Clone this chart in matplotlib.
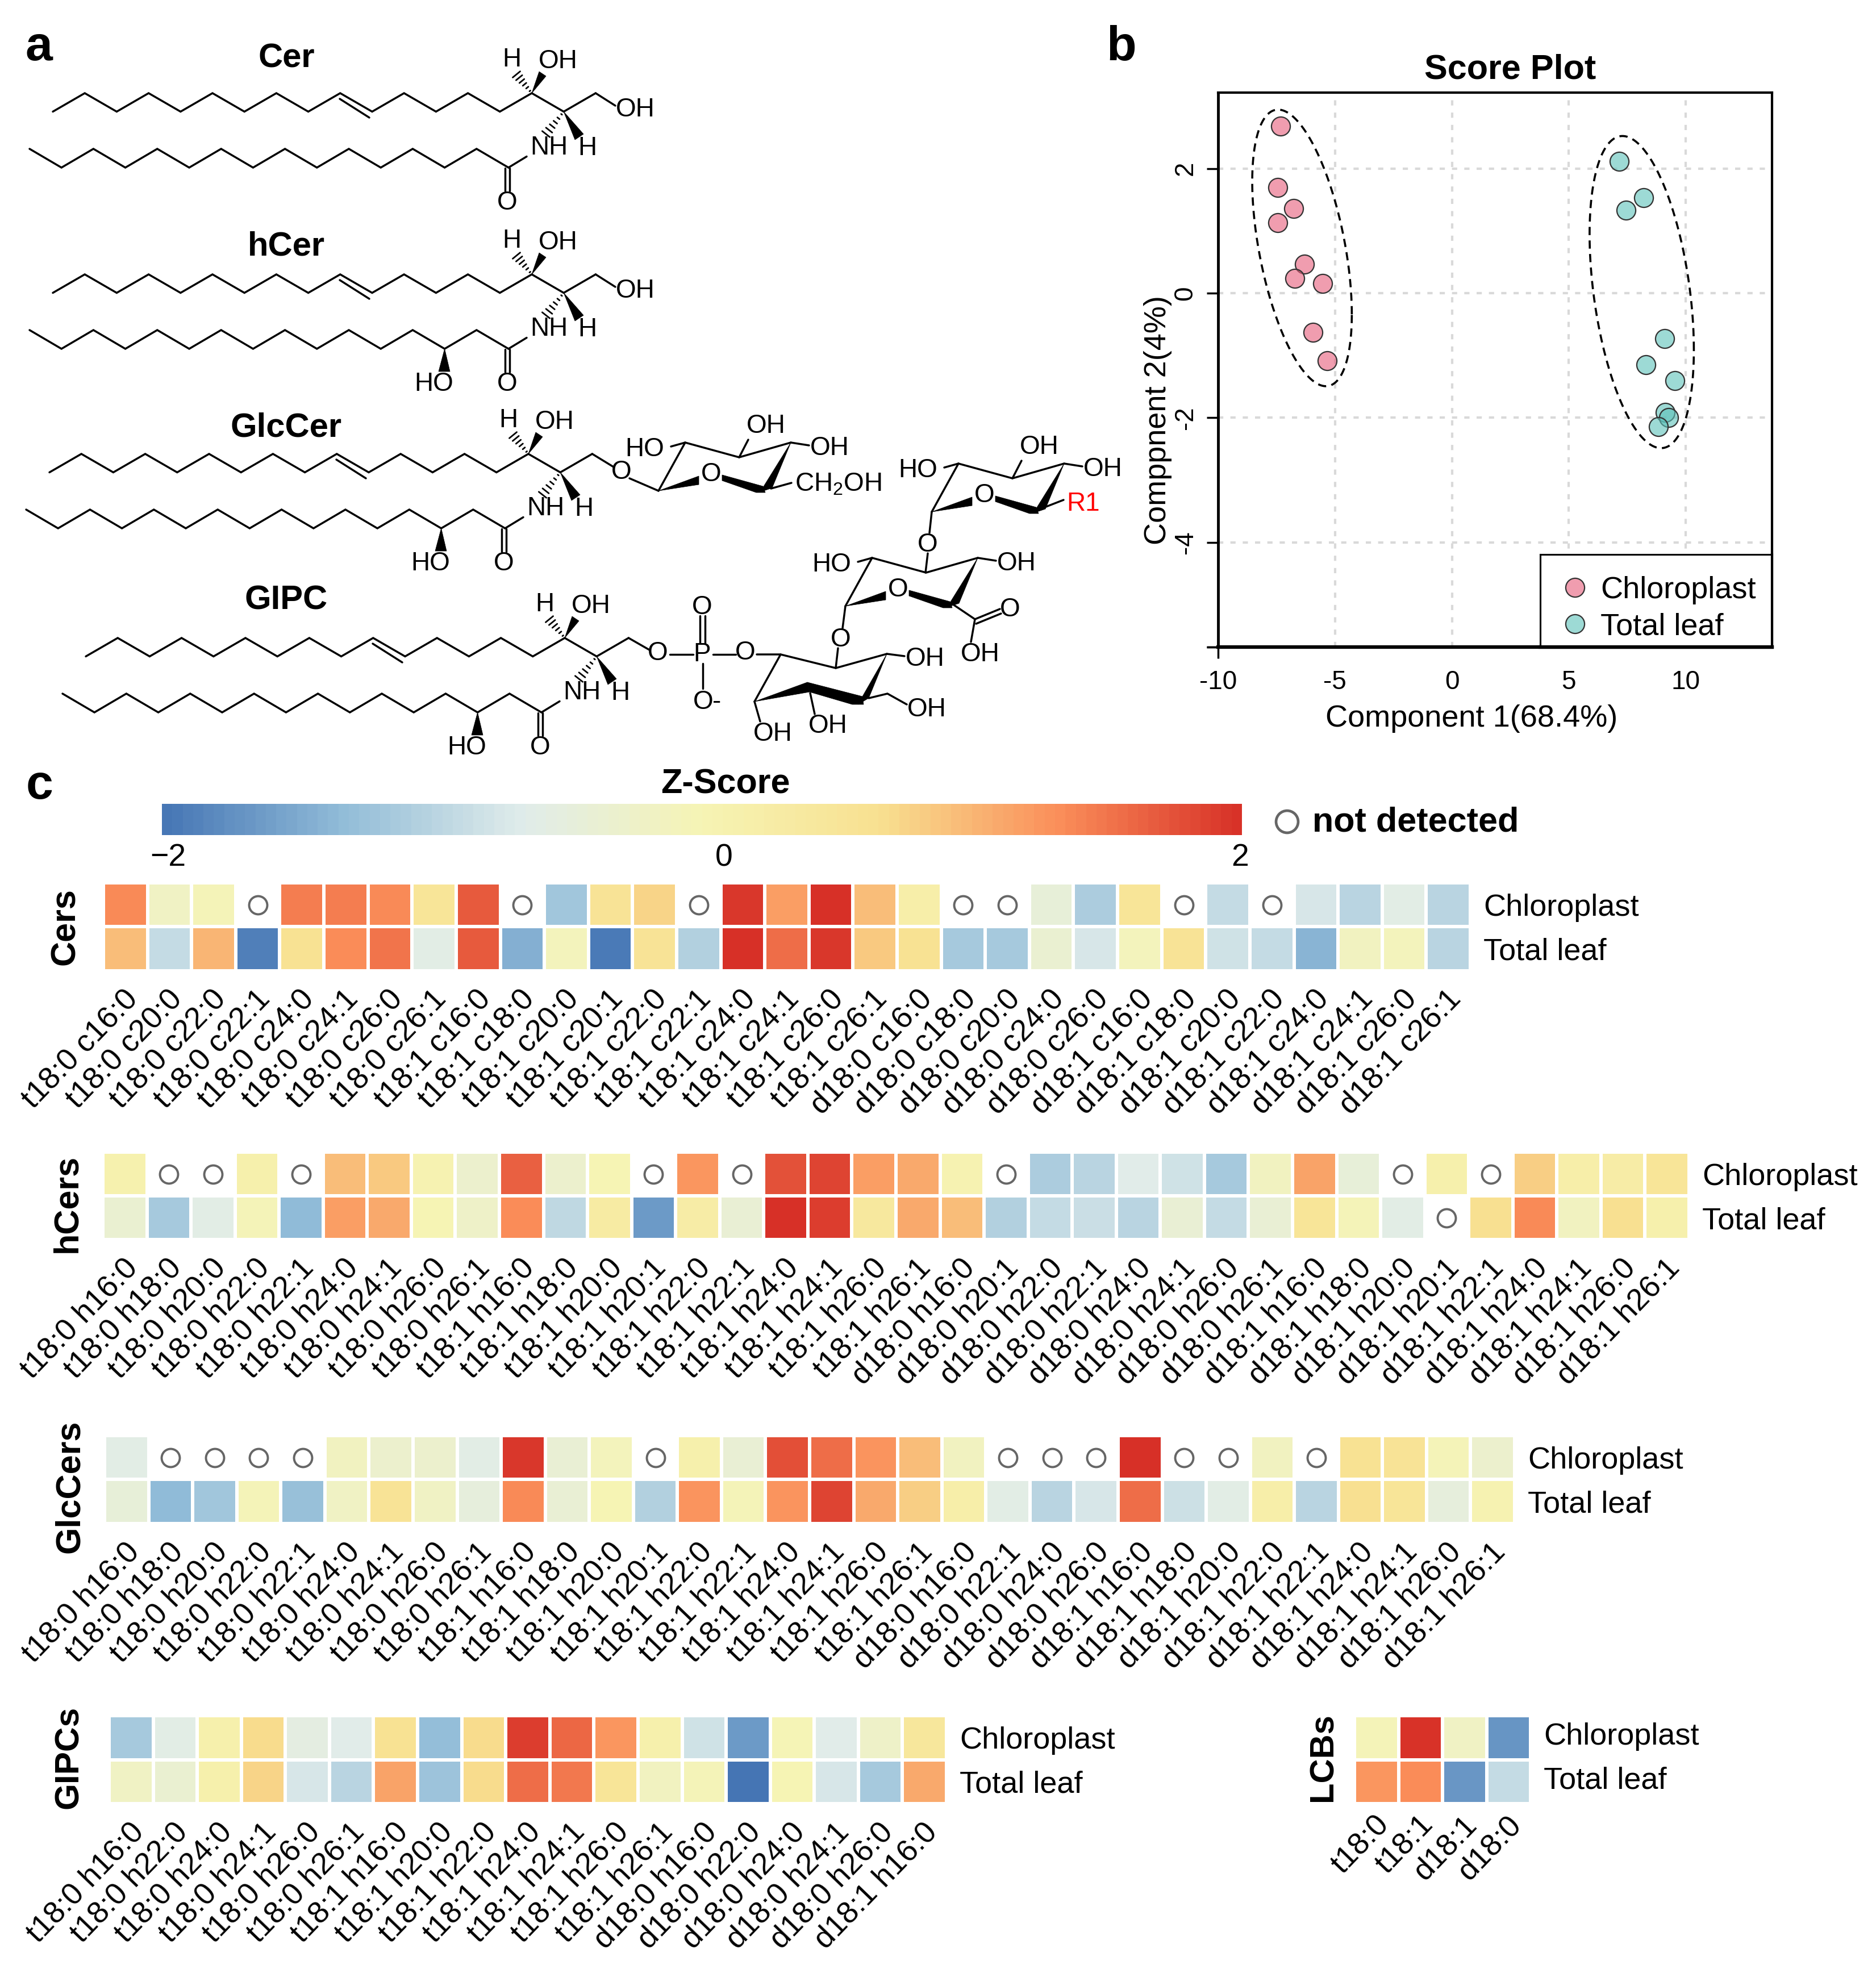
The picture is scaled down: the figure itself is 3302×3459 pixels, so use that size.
import numpy as np
import matplotlib
matplotlib.use("Agg")
import matplotlib.pyplot as plt
from matplotlib.colors import LinearSegmentedColormap
from matplotlib.patches import Polygon
from matplotlib.transforms import ScaledTranslation

plt.rcParams['font.family'] = ['Liberation Sans', 'DejaVu Sans']
plt.rcParams['mathtext.fontset'] = 'custom'
plt.rcParams['mathtext.rm'] = 'Liberation Sans'
plt.rcParams['mathtext.default'] = 'rm'

nd = np.nan

# ---------- data: score plot ----------
chloro_x = [-7.33, -7.44, -6.76, -7.44, -6.30, -6.72, -5.54, -5.95, -5.33]
chloro_y = [2.68, 1.70, 1.36, 1.13, 0.47, 0.24, 0.16, -0.63, -1.08]
leaf_x = [7.15, 8.20, 7.46, 9.11, 8.29, 9.53, 9.13, 9.28, 8.84]
leaf_y = [2.12, 1.53, 1.33, -0.73, -1.15, -1.40, -1.91, -2.00, -2.14]
# ellipse: centre x, centre y, half-width, half-height, correlation
chloro_ellipse = (-6.41, 0.727, 2.13, 2.22, -0.48)
leaf_ellipse = (8.12, 0.018, 2.23, 2.505, -0.37)
x_ticks = [-10, -5, 0, 5, 10]
y_ticks = [2, 0, -2, -4]

# ---------- data: heatmaps ----------
rows = ['Chloroplast', 'Total leaf']

cers_labels = ['t18:0 c16:0', 't18:0 c20:0', 't18:0 c22:0', 't18:0 c22:1', 't18:0 c24:0', 't18:0 c24:1',
               't18:0 c26:0', 't18:0 c26:1', 't18:1 c16:0', 't18:1 c18:0', 't18:1 c20:0', 't18:1 c20:1',
               't18:1 c22:0', 't18:1 c22:1', 't18:1 c24:0', 't18:1 c24:1', 't18:1 c26:0', 't18:1 c26:1',
               'd18:0 c16:0', 'd18:0 c18:0', 'd18:0 c20:0', 'd18:0 c24:0', 'd18:0 c26:0', 'd18:1 c16:0',
               'd18:1 c18:0', 'd18:1 c20:0', 'd18:1 c22:0', 'd18:1 c24:0', 'd18:1 c24:1', 'd18:1 c26:0',
               'd18:1 c26:1']
cers_chloro = [1.35, -.2, -.05, nd, 1.45, 1.45, 1.35, .5, 1.7, nd, -1.2, .55, .75, nd, 1.95, 1.2, 2.0, .95, .2,
               nd, nd, -.45, -1.1, .5, nd, -.9, nd, -.75, -1.0, -.6, -1.0]
cers_leaf = [.95, -.9, 1.0, -1.9, .6, 1.33, 1.5, -.6, 1.7, -1.45, -.1, -1.95, .55, -1.05, 2.0, 1.55, 1.95, .85, .6,
             -1.15, -1.15, -.35, -.75, -.1, .55, -.8, -.9, -1.4, -.15, -.1, -1.0]

hcers_labels = ['t18:0 h16:0', 't18:0 h18:0', 't18:0 h20:0', 't18:0 h22:0', 't18:0 h22:1', 't18:0 h24:0',
                't18:0 h24:1', 't18:0 h26:0', 't18:0 h26:1', 't18:1 h16:0', 't18:1 h18:0', 't18:1 h20:0',
                't18:1 h20:1', 't18:1 h22:0', 't18:1 h22:1', 't18:1 h24:0', 't18:1 h24:1', 't18:1 h26:0',
                't18:1 h26:1', 'd18:0 h16:0', 'd18:0 h20:1', 'd18:0 h22:0', 'd18:0 h22:1', 'd18:0 h24:0',
                'd18:0 h24:1', 'd18:0 h26:0', 'd18:0 h26:1', 'd18:1 h16:0', 'd18:1 h18:0', 'd18:1 h20:0',
                'd18:1 h20:1', 'd18:1 h22:1', 'd18:1 h24:0', 'd18:1 h24:1', 'd18:1 h26:0', 'd18:1 h26:1']
hcers_chloro = [.1, nd, nd, .15, nd, .95, .85, .05, -.3, 1.65, -.3, 0, nd, 1.25, nd, 1.75, 1.85, 1.2, 1.1, .05,
                nd, -1.1, -1.0, -.65, -.8, -1.15, -.15, 1.15, -.45, nd, .15, nd, .8, .2, .25, .5]
hcers_leaf = [-.35, -1.15, -.6, -.05, -1.33, 1.2, 1.1, 0, -.25, 1.33, -.95, .3, -1.65, .25, -.4, 2.0, 1.9, .4, 1.1,
              .95, -1.05, -.9, -.85, -1.0, -.4, -.9, -.4, .5, -.05, -.6, nd, .65, 1.35, -.15, .65, .15]

glc_labels = ['t18:0 h16:0', 't18:0 h18:0', 't18:0 h20:0', 't18:0 h22:0', 't18:0 h22:1', 't18:0 h24:0',
              't18:0 h24:1', 't18:0 h26:0', 't18:0 h26:1', 't18:1 h16:0', 't18:1 h18:0', 't18:1 h20:0',
              't18:1 h20:1', 't18:1 h22:0', 't18:1 h22:1', 't18:1 h24:0', 't18:1 h24:1', 't18:1 h26:0',
              't18:1 h26:1', 'd18:0 h16:0', 'd18:0 h22:1', 'd18:0 h24:0', 'd18:0 h26:0', 'd18:1 h16:0',
              'd18:1 h18:0', 'd18:1 h20:0', 'd18:1 h22:0', 'd18:1 h22:1', 'd18:1 h24:0', 'd18:1 h24:1',
              'd18:1 h26:0', 'd18:1 h26:1']
glc_chloro = [-.6, nd, nd, nd, nd, -.15, -.3, -.3, -.6, 1.95, -.4, -.1, nd, .15, -.4, 1.78, 1.55, 1.28, .95, -.15,
              nd, nd, nd, 2.0, nd, nd, -.15, nd, .6, .55, -.05, -.3]
glc_leaf = [-.45, -1.33, -1.2, -.05, -1.27, -.2, .55, -.2, -.5, 1.35, -.4, 0, -1.05, 1.28, -.05, 1.28, 1.85, 1.1,
            .8, .2, -.6, -1.0, -.75, 1.55, -.83, -.6, .2, -1.0, .65, .5, -.5, .05]

gipc_labels = ['t18:0 h16:0', 't18:0 h22:0', 't18:0 h24:0', 't18:0 h24:1', 't18:0 h26:0', 't18:0 h26:1',
               't18:1 h16:0', 't18:1 h20:0', 't18:1 h22:0', 't18:1 h24:0', 't18:1 h24:1', 't18:1 h26:0',
               't18:1 h26:1', 'd18:0 h16:0', 'd18:0 h22:0', 'd18:0 h24:0', 'd18:0 h24:1', 'd18:0 h26:0',
               'd18:1 h16:0']
gipc_chloro = [-1.15, -.6, .15, .7, -.55, -.65, .6, -1.3, .7, 1.9, 1.6, 1.25, .15, -.8, -1.65, -.02, -.65, -.25, .45]
gipc_leaf = [-.2, -.35, .15, .75, -.75, -1.0, 1.15, -1.22, .7, 1.55, 1.47, .5, -.15, -.05, -2.0, 0, -.75, -1.15, 1.1]

lcb_labels = ['t18:0', 't18:1', 'd18:1', 'd18:0']
lcb_chloro = [-.05, 1.97, -.2, -1.7]
lcb_leaf = [1.25, 1.33, -1.68, -.9]

colorbar_ticks = ['\u22122', '0', '2']

# ---------- figure ----------
W, H = 3302, 3459
fig = plt.figure(figsize=(W / 100, H / 100), dpi=100, facecolor='white')
PX = 0.72  # points per pixel


def ax_px(l, t, r, b, **kw):
    return fig.add_axes([l / W, 1 - b / H, (r - l) / W, (b - t) / H], **kw)


ov = fig.add_axes([0, 0, 1, 1], zorder=0)
ov.set_xlim(0, W)
ov.set_ylim(H, 0)
ov.axis('off')
LW = 2.5
ATOM = 33


def line(*pts, lw=LW, c='black'):
    xs, ys = zip(*pts)
    ov.plot(xs, ys, color=c, lw=lw, solid_capstyle='round', solid_joinstyle='miter')


def atom(x, y, s, size=ATOM, c='black', **kw):
    ov.text(x, y + 3, s, ha='center', va='center', fontsize=size, color=c, **kw)


def wedge(*pts):
    ov.add_patch(Polygon(pts, closed=True, fc='black', ec='black', lw=0.5))


def hashed(tip, end, n=6, w=17):
    tip, end = np.array(tip, float), np.array(end, float)
    d = end - tip
    perp = np.array([-d[1], d[0]]) / np.hypot(*d)
    for f in np.linspace(0.12, 1, n):
        c = tip + d * f
        h = perp * w * f / 2
        line(c - h, c + h, lw=2.0)


def lipid(dx, dy, title, title_y, hydroxy, oh_head):
    sx = [93 + 56.2 * i + dx for i in range(18)]
    sy = [(164 if i % 2 else 196.5) + dy for i in range(18)]
    line(*zip(sx, sy))
    # trans double bond
    line((598 + dx, 174 + dy), (650 + dx, 207 + dy))
    fx = [52 + 56.2 * j + dx for j in range(16)]
    fy = [(295 if j % 2 else 262) + dy for j in range(16)]
    line(*zip(fx, fy))
    line((fx[-1], fy[-1]), (927 + dx, 275.5 + dy))
    line((889 + dx, 296 + dy), (889 + dx, 336 + dy))
    line((897 + dx, 296 + dy), (897 + dx, 336 + dy))
    atom(893 + dx, 354 + dy, 'O')
    wedge((sx[15], sy[15]), (949 + dx, 126 + dy), (961 + dx, 134 + dy))
    hashed((sx[15], sy[15]), (909 + dx, 131 + dy))
    wedge((sx[16], sy[16]), (1012 + dx, 246 + dy), (1027 + dx, 236 + dy))
    hashed((sx[16], sy[16]), (961 + dx, 236 + dy))
    atom(901 + dx, 102 + dy, 'H')
    atom(982 + dx, 105 + dy, 'OH')
    atom(966 + dx, 257 + dy, 'NH')
    atom(1034 + dx, 258 + dy, 'H')
    if oh_head:
        line((sx[17], sy[17]), (1083 + dx, 186 + dy))
        atom(1118 + dx, 190 + dy, 'OH')
    if hydroxy:
        wedge((fx[13], fy[13]), (772 + dx, 335 + dy), (792 + dx, 335 + dy))
        atom(764 + dx, 354 + dy, 'HO')
    ov.text(504, title_y, title, ha='center', va='center', fontsize=43, fontweight='bold')
    return sx[17], sy[17]


def ring(x, y, top_oh=True, right_oh=True, left_ho=True):
    P = lambda a, b: (x + a, y + b)
    line(P(0, 0), P(47, -85), P(142, -59), P(233, -85))
    wedge(P(0, 0), P(71, -26), P(71, -11))
    wedge(P(112, -28), P(112, -18), P(172, 3), P(188, 3), P(184, -8))
    wedge(P(233, -85), P(179, 2), P(200, -5))
    atom(x + 93, y - 32, 'O')
    if left_ho:
        line(P(47, -85), P(22, -78))
        atom(x - 24, y - 76, 'HO')
    if top_oh:
        line(P(142, -59), P(158, -90))
        atom(x + 189, y - 117, 'OH')
    if right_oh:
        line(P(233, -85), P(265, -80))
        atom(x + 301, y - 78, 'OH')


lipid(0, 0, 'Cer', 103, False, True)
lipid(0, 319, 'hCer', 434, True, True)
gx, gy = lipid(-6, 635, 'GlcCer', 753, True, False)
line((gx, gy), (1080, 822))
atom(1094, 828, 'O')
line((1108, 842), (1159, 864))
ring(1159, 864)
line((1357, 860), (1393, 850))
atom(1475, 849, 'CH$_2$OH')

px_, py_ = lipid(58, 959, 'GIPC', 1057, True, False)
line((px_, py_), (1143, 1144))
atom(1158, 1147, 'O')
line((1179, 1152), (1220, 1152))
atom(1236, 1149, 'P')
line((1255, 1152), (1295, 1152))
atom(1312, 1146, 'O')
line((1232, 1084), (1232, 1132))
line((1241, 1084), (1241, 1132))
atom(1236, 1066, 'O')
line((1237, 1168), (1237, 1212))
atom(1238, 1233, 'O')
atom(1262, 1233, '-')
line((1332, 1152), (1374, 1152), (1471, 1176), (1561, 1151))
line((1374, 1152), (1328, 1235))
wedge((1328, 1235), (1421, 1201), (1425, 1218))
wedge((1421, 1201), (1425, 1218), (1500, 1240), (1520, 1240), (1518, 1226))
wedge((1561, 1151), (1510, 1240), (1529, 1229))
line((1529, 1229), (1562, 1221), (1596, 1240))
atom(1631, 1246, 'OH')
line((1561, 1151), (1592, 1155))
atom(1628, 1157, 'OH')
line((1426, 1220), (1434, 1257))
atom(1457, 1275, 'OH')
line((1328, 1235), (1338, 1270))
atom(1360, 1289, 'OH')
line((1471, 1176), (1475, 1141))
atom(1480, 1123, 'O')
line((1483, 1106), (1488, 1067))
ring(1488, 1067, top_oh=False, right_oh=True)
line((1629, 1008), (1633, 974))
atom(1633, 956, 'O')
line((1636, 938), (1640, 901))
ring(1640, 901)
line((1818, 901), (1872, 880))
atom(1907, 884, 'R1', c='#ff0000')
# carboxyl
line((1679, 1065), (1716, 1090))
line((1716, 1090), (1760, 1072))
line((1718, 1098), (1762, 1080))
atom(1778, 1070, 'O')
line((1716, 1090), (1709, 1130))
atom(1725, 1149, 'OH')

for s, x, y in [('a', 68, 84), ('b', 1974, 84), ('c', 70, 1384)]:
    ov.text(x, y, s, ha='center', va='center', fontsize=62, fontweight='bold')

# ---------- panel b ----------
ax = ax_px(2144, 163, 3119, 1139, zorder=2)
ax.set_xlim(-10, (3119 - 2144) / 41.15 - 10)
ax.set_ylim(-5.68, 3.22)
ax.set_xticks(x_ticks)
ax.set_yticks(y_ticks)
ax.set_xticklabels([str(v) for v in x_ticks], fontsize=33)
ax.set_yticklabels([str(v) for v in y_ticks], fontsize=33, rotation=90, va='center')
ax.tick_params(axis='x', length=0, pad=29)
ax.tick_params(axis='y', length=20 * PX, width=2.5, pad=11)
ax.xaxis.get_major_ticks()[0].tick1line.set_markersize(20 * PX)
ax.xaxis.get_major_ticks()[0].tick1line.set_markeredgewidth(2.5)
grid_style = dict(color='#d9d9d9', lw=3, ls=(0, (2.2, 3)), zorder=0)
for v in x_ticks[1:]:
    ax.axvline(v, **grid_style)
for v in y_ticks:
    ax.axhline(v, **grid_style)
ax.plot([-10, -10], [-5.68, -5.68], clip_on=False, color='black', marker=0, ms=20 * PX, mew=2.5)
for side, lw in dict(left=3.5, top=3, right=3, bottom=4.5).items():
    ax.spines[side].set_linewidth(lw)
ax.set_xlabel('Component 1(68.4%)', fontsize=39, labelpad=12, x=0.458)
ax.set_ylabel('Comppnent 2(4%)', fontsize=39)
ax.yaxis.set_label_coords(-0.083, 0.409)
ax.set_title('Score Plot', fontsize=44, fontweight='bold', pad=17.5, x=0.527)
t = np.linspace(0, 2 * np.pi, 300)
for (cx, cy, rx, ry, rho) in (chloro_ellipse, leaf_ellipse):
    ax.plot(cx + rx * np.cos(t), cy + ry * (rho * np.cos(t) + np.sqrt(1 - rho ** 2) * np.sin(t)),
            color='black', lw=2.6, ls=(0, (4, 2.6)), zorder=2)
marker_style = dict(s=570, edgecolors='#333333', linewidths=1.6, zorder=3)
s1 = ax.scatter(chloro_x, chloro_y, facecolors=[(0.90, 0.36, 0.48, 0.6)], label='Chloroplast', **marker_style)
s2 = ax.scatter(leaf_x, leaf_y, facecolors=[(0.36, 0.76, 0.73, 0.6)], label='Total leaf', **marker_style)
lg = ax_px(2711, 976, 3119, 1139, zorder=5)
lg.set_xticks([])
lg.set_yticks([])
lg.patch.set_facecolor('white')
for side, lw in dict(left=2.2, top=2.2, right=3, bottom=4.5).items():
    lg.spines[side].set_linewidth(lw)
lg.legend(handles=[s1, s2], loc='center left', bbox_to_anchor=(0.083, 0.417), frameon=False, fontsize=39,
          borderaxespad=0, borderpad=0, labelspacing=0.27, handlelength=1.0, handletextpad=0.33,
          scatteryoffsets=[0.5])

# ---------- panel c ----------
cmap = LinearSegmentedColormap.from_list(
    'z', ['#4575b4', '#91bcd8', '#e0ecea', '#f6f4b4', '#f8e090', '#fa8d59', '#d73027'])


def heat(left, right, top, bottom, labels, chloro, leaf, label_dy=0, xpad=30):
    ax = ax_px(left - 3, top - 3, right + 3, bottom + 3, zorder=2)
    data = np.ma.masked_invalid(np.array([chloro, leaf], float))
    ax.pcolormesh(np.arange(len(labels) + 1), [0, 1, 2], data, cmap=cmap, vmin=-2, vmax=2,
                  edgecolors='white', linewidth=4.0)
    ax.set_xlim(0, len(labels))
    ax.set_ylim(2, 0)
    r, c = np.where(np.isnan(np.array([chloro, leaf], float)))
    ax.plot(c + .5, r + .5, 'o', mfc='none', mec='#666666', ms=23, mew=2.8, ls='none')
    ax.set_xticks(np.arange(len(labels)) + .5)
    ax.set_xticklabels(labels, rotation=46, ha='right', va='center', rotation_mode='anchor', fontsize=39)
    ax.yaxis.tick_right()
    ax.set_yticks([.5, 1.5])
    ax.set_yticklabels(rows, fontsize=39)
    ax.tick_params(length=0)
    ax.tick_params(axis='x', pad=xpad)
    ax.tick_params(axis='y', pad=16.5)
    xoff = ScaledTranslation(14 * PX / 72, 0, fig.dpi_scale_trans)
    for lab in ax.get_xticklabels():
        lab.set_transform(lab.get_transform() + xoff)
    if label_dy:
        off = ScaledTranslation(0, label_dy * PX / 72, fig.dpi_scale_trans)
        for lab in ax.get_yticklabels():
            lab.set_transform(lab.get_transform() + off)
    for sp in ax.spines.values():
        sp.set_visible(False)
    return ax


heat(185, 2585, 1557, 1706, cers_labels, cers_chloro, cers_leaf)
heat(184, 2970, 2031, 2179, hcers_labels, hcers_chloro, hcers_leaf)
heat(187, 2663, 2530, 2679, glc_labels, glc_chloro, glc_leaf)
heat(195, 1663, 3023, 3172, gipc_labels, gipc_chloro, gipc_leaf)
heat(2387, 2691, 3023, 3172, lcb_labels, lcb_chloro, lcb_leaf, label_dy=7, xpad=21)

for s, x, y, size in [('Cers', 116, 1631, 44), ('hCers', 119, 2118, 44), ('GlcCers', 124, 2617, 44),
                      ('GIPCs', 122, 3093, 43.5), ('LCBs', 2329, 3093, 43)]:
    ov.text(x, y, s, rotation=90, ha='center', va='center', fontsize=size, fontweight='bold')

# colour bar
cb = ax_px(285, 1415, 2186, 1470, zorder=2)
bands = np.linspace(-2, 2, 105)
cb.pcolormesh(bands, [0, 1], ((bands[:-1] + bands[1:]) / 2)[None, :], cmap=cmap, vmin=-2, vmax=2)
cb.axis('off')
for s, x in zip(colorbar_ticks, [296, 1274, 2183]):
    ov.text(x, 1510, s, ha='center', va='center', fontsize=40)
ov.text(1277, 1381, 'Z-Score', ha='center', va='center', fontsize=44, fontweight='bold')
ov.plot([2265], [1446], 'o', mfc='none', mec='#666666', ms=28, mew=3.4)
ov.text(2310, 1448, 'not detected', ha='left', va='center', fontsize=44, fontweight='bold')

fig.savefig('out.png', dpi=100, facecolor='white')
